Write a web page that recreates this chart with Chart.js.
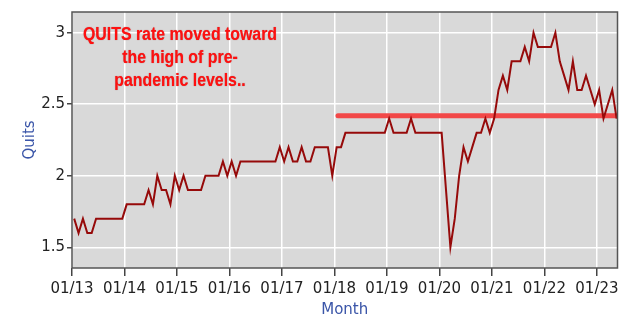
<!DOCTYPE html>
<html>
<head>
<meta charset="utf-8">
<script src="https://cdn.jsdelivr.net/npm/chart.js@4/dist/chart.umd.min.js"></script>
<style>
    html, body { margin: 0; padding: 0; background: #ffffff; }
    #wrap { width: 631px; height: 332px; }
</style>
</head>
<body>
<div id="wrap"><canvas id="quitsChart" width="631" height="332"></canvas></div>
<script>
// Tick labels on the x axis, one per January
const yearLabels = ['01/13', '01/14', '01/15', '01/16', '01/17', '01/18', '01/19', '01/20', '01/21', '01/22', '01/23'];

// Quits rate, monthly from Jan 2013 to May 2023
const quits = [
    1.7, 1.6, 1.7, 1.6, 1.6, 1.7, 1.7, 1.7, 1.7, 1.7, 1.7, 1.7, // 2013
    1.8, 1.8, 1.8, 1.8, 1.8, 1.9, 1.8, 2.0, 1.9, 1.9, 1.8, 2.0, // 2014
    1.9, 2.0, 1.9, 1.9, 1.9, 1.9, 2.0, 2.0, 2.0, 2.0, 2.1, 2.0, // 2015
    2.1, 2.0, 2.1, 2.1, 2.1, 2.1, 2.1, 2.1, 2.1, 2.1, 2.1, 2.2, // 2016
    2.1, 2.2, 2.1, 2.1, 2.2, 2.1, 2.1, 2.2, 2.2, 2.2, 2.2, 2.0, // 2017
    2.2, 2.2, 2.3, 2.3, 2.3, 2.3, 2.3, 2.3, 2.3, 2.3, 2.3, 2.3, // 2018
    2.4, 2.3, 2.3, 2.3, 2.3, 2.4, 2.3, 2.3, 2.3, 2.3, 2.3, 2.3, // 2019
    2.3, 1.9, 1.5, 1.7, 2.0, 2.2, 2.1, 2.2, 2.3, 2.3, 2.4, 2.3, // 2020
    2.4, 2.6, 2.7, 2.6, 2.8, 2.8, 2.8, 2.9, 2.8, 3.0, 2.9, 2.9, // 2021
    2.9, 2.9, 3.0, 2.8, 2.7, 2.6, 2.8, 2.6, 2.6, 2.7, 2.6, 2.5, // 2022
    2.6, 2.4, 2.5, 2.6, 2.4                                     // 2023
];

// Red reference line (pre-pandemic high), in months since Jan 2013
const refLineX = [60.8, 124.7];
const refLineY = [2.42, 2.42];

const yTicks = [1.5, 2, 2.5, 3];

const note = ['QUITS rate moved toward', 'the high of pre-', 'pandemic levels..'];

// fundo cinza da area do grafico + moldura
const plotFrame = {
    id: 'plotFrame',
    beforeDraw(chart) {
        const { ctx, chartArea: a } = chart;
        ctx.save();
        ctx.fillStyle = '#ffffff';
        ctx.fillRect(0, 0, chart.width, chart.height);
        ctx.fillStyle = '#d9d9d9';
        ctx.fillRect(a.left, a.top, a.right - a.left, a.bottom - a.top);
        ctx.restore();
    },
    afterDatasetsDraw(chart) {
        const { ctx, chartArea: a } = chart;
        ctx.save();
        ctx.strokeStyle = '#555555';
        ctx.lineWidth = 1.5;
        ctx.strokeRect(a.left, a.top, a.right - a.left, a.bottom - a.top);
        ctx.restore();
    }
};

// texto vermelho da anotacao
const noteText = {
    id: 'noteText',
    afterDraw(chart) {
        const ctx = chart.ctx;
        ctx.save();
        ctx.font = 'bold 18px "Liberation Sans", Arial, sans-serif';
        const w = ctx.measureText(note[0]).width;
        const sx = 194 / w; // condensado
        ctx.textAlign = 'center';
        ctx.textBaseline = 'middle';
        ctx.fillStyle = '#ff1010';
        ctx.shadowColor = 'rgba(120,0,0,0.5)';
        ctx.shadowBlur = 1;
        note.forEach((line, k) => {
            ctx.save();
            ctx.translate(180, 35 + k * 23);
            ctx.scale(sx, 1);
            ctx.fillText(line, 0, 0);
            ctx.restore();
        });
        ctx.restore();
    }
};

window.onload = function() {
    const ctx = document.getElementById('quitsChart').getContext('2d');
    const chart = new Chart(ctx, {
        type: 'line',
        data: {
            datasets: [{
                label: 'Quits',
                // ponto no meio do mes
                data: quits.map((v, i) => ({ x: i + 0.5, y: v })),
                borderColor: '#960a0a',
                borderWidth: 2,
                pointRadius: 0,
                tension: 0,
                fill: false
            }, {
                label: 'ref',
                data: refLineX.map((x, i) => ({ x: x, y: refLineY[i] })),
                borderColor: '#f24848',
                borderWidth: 5,
                borderCapStyle: 'round',
                pointRadius: 0,
                fill: false
            }]
        },
        options: {
            responsive: false,
            animation: false,
            layout: {
                padding: { top: 12, right: 13.5, left: 0, bottom: 0 }
            },
            plugins: {
                legend: { display: false },
                tooltip: { enabled: false }
            },
            scales: {
                x: {
                    type: 'linear',
                    min: 0,
                    max: 124.7,
                    afterBuildTicks: (axis) => {
                        axis.ticks = yearLabels.map((l, k) => ({ value: k * 12 }));
                    },
                    afterFit: (axis) => { axis.height = 64; },
                    ticks: {
                        autoSkip: false,
                        maxRotation: 0,
                        minRotation: 0,
                        padding: 4,
                        color: '#222222',
                        font: { family: 'DejaVu Sans', size: 15 },
                        callback: (v) => yearLabels[Math.round(v / 12)]
                    },
                    grid: {
                        color: '#ffffff',
                        lineWidth: 1.5,
                        tickColor: '#444444',
                        tickLength: 8
                    },
                    border: { display: false },
                    title: {
                        display: true,
                        text: 'Month',
                        color: '#3a55a8',
                        font: { family: 'DejaVu Sans', size: 15 },
                        padding: { top: 0, bottom: 13 }
                    }
                },
                y: {
                    min: 1.355,
                    max: 3.145,
                    afterBuildTicks: (axis) => {
                        axis.ticks = yTicks.map(v => ({ value: v }));
                    },
                    afterFit: (axis) => { axis.width = 72; },
                    ticks: {
                        padding: 2,
                        color: '#222222',
                        font: { family: 'DejaVu Sans', size: 15 },
                        callback: (v) => String(v)
                    },
                    grid: {
                        color: '#ffffff',
                        lineWidth: 1.5,
                        tickColor: '#444444',
                        tickLength: 5
                    },
                    border: { display: false },
                    title: {
                        display: true,
                        text: 'Quits',
                        color: '#3a55a8',
                        font: { family: 'DejaVu Sans', size: 15 },
                        padding: { top: 21, bottom: 0 }
                    }
                }
            }
        },
        plugins: [plotFrame, noteText]
    });
};
</script>
</body>
</html>
